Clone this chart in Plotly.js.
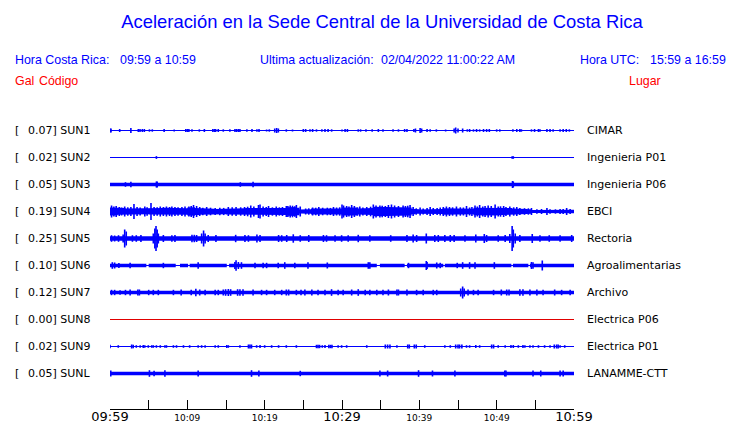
<!DOCTYPE html>
<html><head><meta charset="utf-8">
<script src="https://cdn.plot.ly/plotly-3.0.1.min.js"></script>
<style>html,body{margin:0;padding:0;background:#fff}#chart{width:740px;height:423px}</style>
</head><body><div id="chart"></div>
<script>
// ---------- DATA ----------
const codes  = ['SUN1','SUN2','SUN3','SUN4','SUN5','SUN6','SUN7','SUN8','SUN9','SUNL'];
const places = ['CIMAR','Ingenieria P01','Ingenieria P06','EBCI','Rectoria','Agroalimentarias','Archivo','Electrica P06','Electrica P01','LANAMME-CTT'];
const galMax = [0.07,0.02,0.05,0.19,0.25,0.10,0.12,0.00,0.02,0.05];
// background noise half-amplitude of each trace (trace units, 27 units = row spacing)
const baseAmp = [0.6,0.6,1.7,1.5,2.3,1.7,1.7,0.5,0.6,1.7];

const tickMinutes = [0,5,10,15,20,25,30,35,40,45,50,55,60];
const tickLabels  = ['09:59','','10:09','','10:19','','10:29','','10:39','','10:49','','10:59'];

// spikes: minute after 09:59 and half-amplitude (trace units)
const sun1T = [0.0,0.13,1.25,2.7,3.66,3.88,4.18,4.44,5.1,5.47,7.0,8.3,9.8,10.0,10.2,10.6,11.55,12.2,13.3,13.5,13.66,14.0,14.65,15.5,16.16,16.37,16.6,16.8,17.7,18.36,19.0,19.27,20.25,20.6,21.3,21.55,21.77,22.8,23.6,25.0,25.3,25.86,26.2,26.7,27.4,27.8,28.2,28.66,30.0,30.4,30.7,32.1,32.4,33.1,33.9,34.7,35.3,36.6,37.3,38.1,38.4,39.3,39.5,40.1,40.3,41.0,41.4,42.2,43.4,44.5,44.7,45.0,45.6,46.2,46.5,47.0,47.4,47.8,48.3,48.7,49.05,50.0,50.4,52.1,52.6,53.0,53.2,54.5,54.9,55.4,55.6,56.5,56.9,57.3,58.2,58.6,59.0,59.4];
const sun1A = [2,2,1.5,2.5,1.5,1.5,1.5,1.5,1.2,1.2,1.5,1,1.5,1.5,1.5,1.2,1.2,1.5,1.5,1.5,1.5,1.5,1.2,1.2,1.5,1.5,1.5,1.5,1.2,1.5,1.2,1.5,1,1.2,2,2.5,2,1.2,1,1.5,1.5,1.2,1.5,1.2,1.2,1.5,1.5,1.2,1,1.5,1.5,1.2,1.2,1.2,1.2,1.5,1.2,1.2,1.2,1.5,1.5,1.5,2,2.5,2,1.5,1.2,1.2,1,2,3,2,2,1.2,1.5,1.2,1.5,1.2,1.5,1.5,1.5,1.2,1.2,1.2,1.5,1.5,1.2,1.2,1.5,1.5,1.2,1.5,1.5,1.2,1.2,1.5,1.5,1.2];
const sun2T = [6.0,52.0,52.15];
const sun2A = [1.4,1.3,1.3];
const sun3T = [2.0,2.7,6.0,6.1,16.85,18.5,52.05,52.15];
const sun3A = [2.3,2.7,3,3,2.3,2.7,3.5,3];
const sun4Env = [4,3.7,3.3,3.5,3,3.2,3.3,3.5,3,2.8,3,3.2,3.3,3.4,3.7,3.5,3.3,3.4,3,3.3,4,4.2,3.4,3.2,2.7,2.8,2.7,2.6,2.8,2.7,3,3.1,3.3,3.2,3.3,3.4,3.7,3.6,3.7,3.5,3.3,3.2,3,3.1,3.3,3.5,4.3,4.5,3.7,2.0,2,2.2,3,2.9,2.7,2.8,2.7,2.8,3,3.1,4,4.2,4,4.1,3,3.1,3.3,3.6,4.7,4.6,4.3,4.4,4.7,4.5,4,4.2,4.3,4.1,2.8,2.3,2,2.1,2.3,2.4,2.7,2.6,3.3,3.2,3.3,3.4,3,2.9,2.7,2.8,3.7,3.6,3.7,3.8,4,3.9,3.7,3.6,3.3,3.4,3,2.9,2.3,2.4,2.2,1.4,1.3,1.4,1.7,1.6,1.4,1.3,1.6,1.7,1.6,1.7];
const sun4T = [0.2,0.8,1.9,3.1,4.5,5.3,6.5,8.0,9.7,10.8,11.2,12.5,15.3,18.2,19.2,19.4,20.5,21.5,22.8,23.3,24.1,24.6,27.0,28.9,30.0,30.2,31.25,32.3,34.05,34.9,36.0,36.4,37.9,38.8,40.1,41.4,42.7,43.5,44.8,46.1,47.2,47.8,48.9,49.8,50.9,51.7,52.6,54.5,56.5,59.05,
  0.5,1.2,1.5,2.3,2.7,3.5,3.9,4.8,5.7,6.1,6.9,7.3,7.7,8.4,8.8,9.3,10.2,10.5,11.6,12.0,13.0,13.6,14.2,14.7,15.8,16.3,16.9,17.4,17.8,18.6,19.8,20.2,21.0,21.9,22.3,23.0,23.6,23.9,25.3,25.7,26.2,26.6,27.5,28.1,28.5,29.3,29.7,30.6,30.9,31.6,32.0,32.7,33.2,33.7,34.4,35.2,35.6,36.8,37.3,38.2,38.5,39.2,39.6,40.5,41.0,41.8,42.3,43.1,43.9,44.3,45.3,45.7,46.5,46.8,47.5,48.2,48.5,49.3,50.2,50.5,51.2,52.2,53.0,53.6,54.1,55.2,55.8,56.9,57.6,58.2,58.6,59.5];
const sun4A = [6,5.5,5,7.5,5,8.5,5,5,5,6.5,5.5,4.5,4.5,6,6.5,7,5.5,5,5.5,6,6.5,5,4.5,4.5,7,6,6.5,5,7,6,6.5,7,6,6.5,4,4.5,4,5,5,5.5,6,6.5,6,7,5.5,5,4.5,3.5,3.5,3.5,
  5,4.5,4,4.2,4.5,4.5,4,4.2,4.5,4.2,4.5,5,4.5,4.5,4.2,4.5,5,5.5,4.5,3.8,3.8,3.5,3.8,3.6,4.2,4.5,4.2,4.5,4.8,5,5,4.5,4.2,4.2,4.5,5.5,5.8,5.2,3,3.2,4,3.8,3.8,3.8,3.6,4,4.2,5.5,5,5.5,4.2,4,4.5,4.8,6,5.8,5.5,6,5.5,5.5,5.8,4.5,3.2,3,3.5,3.5,3.5,4.5,4.5,4.2,4.2,4,4,4.5,5,5,5.5,5.5,5,5.2,4.5,4.2,3.5,3.3,3.2,2.2,2.5,2.2,2.2,2.4,2.6,2.5];
const sun5T = [0.2,0.6,1.1,1.7,1.9,2.1,2.9,3.4,4.0,5.6,5.8,5.95,6.1,6.25,6.9,8.0,8.4,10.6,10.9,11.2,11.85,12.1,12.3,12.7,13.7,16.25,17.45,17.9,19.0,19.4,21.8,22.2,22.85,23.7,24.6,25.7,27.6,28.0,29.1,29.95,30.8,32.1,33.6,36.3,38.4,39.2,39.65,40.9,42.0,42.45,43.3,44.0,44.5,45.9,47.3,48.4,48.7,50.2,51.1,51.7,52.0,52.15,52.4,53.0,54.6,55.6,56.8,58.2,59.7];
const sun5A = [3.3,3,3.3,4,9,7,3.3,3.3,3.5,5,10,12.5,9,5,3.5,3.3,3.5,3.7,3.7,3.5,5,8,5,3.5,3.5,3.7,3.5,3.3,4,3.5,3.5,3.3,3.5,4.2,3.3,3.5,3.5,3.3,3.3,3.3,3.3,3.7,3.3,3.3,3.5,4,3.5,5,3.5,3.5,3.5,3.5,3.5,3.3,4,4.5,3.5,3.3,3.5,4.5,12.5,9,5,3.5,4.5,3.3,3.3,3.3,3.5];
const sun6T = [0.3,0.6,1.15,2.6,6.9,11.4,16.15,16.3,16.6,17.0,18.75,19.8,20.25,21.75,22.6,23.9,25.6,28.1,33.4,33.6,38.6,40.9,41.0,42.25,42.7,44.9,45.6,46.5,47.2,49.7,54.5,54.7,55.9];
const sun6A = [3.3,3,2.5,2.7,2.7,3.3,3.5,5.3,3.5,3.3,2.7,2.7,2.7,2.7,3.3,2.7,3.3,3,3.3,3.3,2.7,4.5,3.5,3,2.7,2.7,3.3,3.3,3.3,3.3,3.5,3.3,5];
const sun6GapStart = [4.7,8.5,10.1,15.1,34.5,38.1,43.1,51.9,54.1];
const sun6GapEnd   = [5.0,9.05,10.3,15.4,34.9,38.4,43.3,52.1,54.3];
const sun7T = [0.2,0.6,1.3,2.0,2.6,3.6,3.8,5.0,5.6,6.25,8.2,9.2,10.5,11.1,11.6,12.3,13.6,14.0,14.65,14.95,15.3,15.6,16.5,16.8,17.2,18.5,19.6,20.25,21.3,22.2,22.8,23.1,24.1,24.7,25.2,26.1,26.9,27.8,28.65,29.5,30.15,31.25,32.1,33.0,33.6,34.5,35.3,36.0,37.1,37.3,38.4,39.65,40.5,41.8,42.25,45.35,45.6,45.8,46.3,47.0,47.6,49.6,50.6,51.3,51.6,53.0,53.4,54.3,55.2,56.0,57.5,58.4,59.5];
const sun7A = [2.7,2.7,2.3,2.7,3,3,3,2.7,2.7,2.7,2.7,3,2.7,3.7,3,2.7,2.7,2.7,3,3.3,3.5,3.3,3.3,3.3,3.3,3,2.7,2.7,2.7,2.7,3,3,2.7,2.7,3,3,2.7,2.7,3.3,2.7,2.7,3,3.3,2.7,2.7,2.7,2.7,3,3,3,3,2.7,2.7,2.7,2.7,4,6,4,3,2.7,2.7,2.7,3,3,3,3.3,3.3,3,3,2.7,3,2.7,2.7];
const sun8T = [];
const sun8A = [];
const sun9T = [0.0,1.07,2.8,3.0,3.4,3.9,4.3,4.5,4.95,5.4,5.6,6.0,6.5,7.1,7.3,8.2,8.6,9.5,10.3,11.4,11.85,12.3,13.6,14.0,15.1,15.3,16.8,17.9,18.1,18.3,18.96,19.4,20.0,20.9,21.8,22.8,24.1,26.7,26.9,27.1,27.45,27.8,28.3,28.5,28.7,29.5,29.95,30.6,33.2,35.6,35.9,36.2,37.1,38.5,38.7,39.35,39.6,40.7,43.3,44.0,44.7,45.0,45.2,45.5,46.1,46.5,47.3,47.8,49.35,49.6,50.2,51.1,51.85,52.15,52.8,53.4,53.65,54.3,54.7,55.4,56.2,56.9,57.45,57.75,57.95,58.2,58.8];
const sun9A = [1.7,1.3,2,1.7,1.3,1.3,1.5,1.3,1.3,1.3,1.3,1.3,1.3,1.3,1.3,1.3,1.3,1.3,1.3,1.3,1.3,1.3,1.3,1.3,1.5,1.3,1.3,2,2,2,1.3,1.5,1.3,1.3,1.3,1.3,1.3,1.7,1.7,1.7,1.3,1.5,1.7,1.7,1.7,1.3,1.3,1.3,1.3,2,2,2,1.3,2,2,2,2,1.3,1.3,1.3,2,2,2,2,1.3,1.3,1.5,1.3,2,2,1.3,1.3,1.5,1.5,1.3,1.5,1.3,1.3,1.3,1.3,1.3,1.3,2,2,2,1.3,1.3];
const sunLT = [0.1,5.1,5.7,7.1,11.4,18.3,19.25,24.6,34.9,35.9,39.9,41.7,44.6,51.05,51.2,54.7,55.7,58.2,58.6];
const sunLA = [3,3.3,2.7,3.3,3,3.3,3,2.7,3,3,3.3,3,3,3,3,3,3,3,3];

// ---------- BUILD ----------
const spikeTimes = [sun1T,sun2T,sun3T,sun4T,sun5T,sun6T,sun7T,sun8T,sun9T,sunLT];
const spikeAmps  = [sun1A,sun2A,sun3A,sun4A,sun5A,sun6A,sun7A,sun8A,sun9A,sunLA];
const envelopes  = [null,null,null,sun4Env,null,null,null,null,null,null];
const gaps       = [null,null,null,null,null,[sun6GapStart,sun6GapEnd],null,null,null,null];
const UNITS_PER_ROW = 27;
const T0 = 0, T1 = 60;
const BLUE = '#0000ff', RED = '#e00000';

const traces = [];
codes.forEach((c, i) => {
  const yc = -i;
  const col = galMax[i] === 0 ? RED : BLUE;
  const s = v => v / UNITS_PER_ROW;
  traces.push({type:'scatter', mode:'lines', x:[T0,T1], y:[yc,yc],
    line:{color:col, width:1}, hoverinfo:'skip', showlegend:false});
  const env = envelopes[i];
  if (env) {
    const dt = (T1 - T0) / env.length;
    const xs = [], ys = [];
    env.forEach((a,k) => { xs.push(T0+k*dt, T0+(k+1)*dt); ys.push(yc+s(a), yc+s(a)); });
    for (let k = env.length-1; k >= 0; k--) { xs.push(T0+(k+1)*dt, T0+k*dt); ys.push(yc-s(env[k]), yc-s(env[k])); }
    traces.push({type:'scatter', mode:'lines', x:xs, y:ys, fill:'toself', fillcolor:col,
      line:{width:0, color:col}, hoverinfo:'skip', showlegend:false});
  } else if (baseAmp[i] > 0.7) {
    const segs = [];
    let start = T0;
    if (gaps[i]) { gaps[i][0].forEach((g,k) => { segs.push([start, g]); start = gaps[i][1][k]; }); }
    segs.push([start, T1]);
    const xs = [], ys = [];
    segs.forEach(([a,b]) => { xs.push(a,b,b,a,a,null); ys.push(yc+s(baseAmp[i]),yc+s(baseAmp[i]),yc-s(baseAmp[i]),yc-s(baseAmp[i]),yc+s(baseAmp[i]),null); });
    traces.push({type:'scatter', mode:'lines', x:xs, y:ys, fill:'toself', fillcolor:col,
      line:{width:0, color:col}, hoverinfo:'skip', showlegend:false});
  }
  const T = spikeTimes[i], A = spikeAmps[i];
  const n = Math.min(T.length, A.length);
  const sx = [], sy = [];
  for (let k = 0; k < n; k++) { sx.push(T[k], T[k], null); sy.push(yc - s(A[k]), yc + s(A[k]), null); }
  if (n) traces.push({type:'scatter', mode:'lines', x:sx, y:sy,
    line:{color:col, width:1.6}, hoverinfo:'skip', showlegend:false, connectgaps:false});
});

// ---------- LAYOUT ----------
const W = 740, H = 423, L = 110, R = 166, TOP = 100, B = 14;
const pw = W - L - R, ph = H - TOP - B;
const px = x => (x - L) / pw;
const py = y => (H - B - y) / ph;
const HDR = 'Liberation Sans, Arial, sans-serif';
const ROWF = 'DejaVu Sans, sans-serif';
const HS = 12.4;
const annotations = [];
function txt(text, x, y, color, size, family, anchor) {
  annotations.push({text, xref:'paper', yref:'paper', x:px(x), y:py(y), xanchor:anchor||'left',
    yanchor:'middle', showarrow:false, font:{family, size, color}, borderpad:0});
}
txt('Hora Costa Rica:', 14, 60, BLUE, HS, HDR);
txt('09:59 a 10:59', 119, 60, BLUE, HS, HDR);
txt('Ultima actualización:', 259, 60, BLUE, HS, HDR);
txt('02/04/2022 11:00:22 AM', 380, 60, BLUE, HS, HDR);
txt('Hora UTC:', 579, 60, BLUE, HS, HDR);
txt('15:59 a 16:59', 649, 60, BLUE, HS, HDR);
txt('Gal', 14, 81, '#ff0000', HS, HDR);
txt('Código', 38, 81, '#ff0000', HS, HDR);
txt('Lugar', 628, 81, '#ff0000', HS, HDR);
codes.forEach((c,i) => {
  const y = 130 + 27*i;
  txt('[', 14, y, '#000', 11, ROWF);
  txt(galMax[i].toFixed(2) + '] ' + c, 27, y, '#000', 11, ROWF);
  txt(places[i], 586, y, '#000', 11, ROWF);
});

const ticktext = tickLabels.map((t,k) => (tickMinutes[k] % 30 === 0) ? '<span style="font-size:13px">'+t+'</span>' : t);

const layout = {
  width:W, height:H, margin:{l:L, r:R, t:TOP, b:B, pad:0},
  paper_bgcolor:'#fff', plot_bgcolor:'#fff', showlegend:false, hovermode:false,
  title:{text:'Aceleración en la Sede Central de la Universidad de Costa Rica', xref:'container', x:382/W,
    yref:'container', y:1-22/H, yanchor:'middle', xanchor:'center',
    font:{family:HDR, size:18.4, color:BLUE}},
  xaxis:{range:[T0,T1], showgrid:false, zeroline:false, showline:true, linecolor:'#000', linewidth:1,
    ticks:'inside', ticklen:9, tickcolor:'#000', tickwidth:1, tickvals:tickMinutes, ticktext:ticktext,
    tickfont:{family:ROWF, size:9, color:'#000'}, fixedrange:true},
  yaxis:{range:[-(H-B-130.5)/27, (130.5-TOP)/27], visible:false, fixedrange:true},
  annotations
};
Plotly.newPlot('chart', traces, layout, {staticPlot:true, displayModeBar:false});
</script></body></html>
